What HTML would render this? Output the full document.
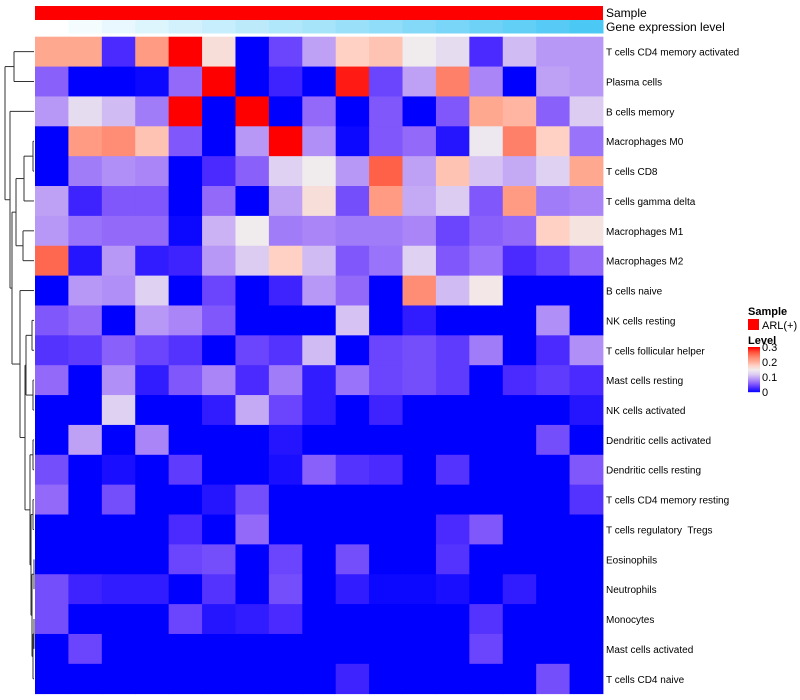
<!DOCTYPE html>
<html><head><meta charset="utf-8"><style>
body{margin:0;background:#fff;width:800px;height:700px;overflow:hidden;font-family:"Liberation Sans",sans-serif}
svg{display:block}
text{font-family:"Liberation Sans",sans-serif;fill:#000;white-space:pre}
</style></head><body>
<svg id="chart" width="800" height="700" xmlns="http://www.w3.org/2000/svg"></svg>
<script>
const rowLabels=["T cells CD4 memory activated","Plasma cells","B cells memory","Macrophages M0","T cells CD8","T cells gamma delta","Macrophages M1","Macrophages M2","B cells naive","NK cells resting","T cells follicular helper","Mast cells resting","NK cells activated","Dendritic cells activated","Dendritic cells resting","T cells CD4 memory resting","T cells regulatory  Tregs","Eosinophils","Neutrophils","Monocytes","Mast cells activated","T cells CD4 naive"];
const r0=[.21,.21,.03,.22,.30,.165,0,.045,.095,.18,.19,.15,.135,.03,.11,.09,.09];
const r1=[.06,0,0,.005,.065,.30,0,.025,0,.29,.045,.095,.24,.08,0,.095,.09];
const r2=[.09,.135,.11,.075,.30,0,.30,0,.065,0,.055,0,.055,.21,.20,.06,.12];
const r3=[0,.22,.23,.19,.055,0,.09,.30,.085,.005,.055,.065,.015,.145,.24,.18,.07];
const r4=[0,.075,.085,.08,0,.03,.06,.125,.15,.09,.26,.095,.19,.115,.10,.125,.21];
const r5=[.095,.025,.055,.055,0,.065,0,.095,.165,.05,.22,.10,.12,.055,.22,.075,.08];
const r6=[.09,.07,.065,.065,.005,.105,.15,.075,.08,.075,.075,.08,.045,.06,.065,.18,.16];
const r7=[.255,.015,.09,.02,.025,.09,.12,.18,.11,.055,.07,.125,.055,.07,.03,.045,.065];
const r8=[0,.09,.085,.125,0,.045,0,.025,.09,.065,0,.23,.11,.155,0,0,0];
const r9=[.055,.065,0,.09,.08,.055,0,0,0,.115,0,.02,0,0,0,.085,0];
const r10=[.035,.04,.06,.045,.035,0,.045,.035,.11,0,.045,.05,.04,.075,0,.03,.085];
const r11=[.065,0,.085,.02,.055,.08,.03,.075,.02,.07,.045,.05,.04,0,.03,.04,.03];
const r12=[0,0,.125,0,0,.02,.1,.045,.02,0,.025,0,0,0,0,0,.015];
const r13=[0,.095,0,.08,0,0,0,.015,0,0,0,0,0,0,0,.05,0];
const r14=[.05,0,.01,0,.04,0,0,.01,.06,.035,.03,0,.035,0,0,0,.055];
const r15=[.065,0,.05,0,0,.015,.05,0,0,0,0,0,0,0,0,0,.035];
const r16=[0,0,0,0,.03,0,.065,0,0,0,0,0,.03,.055,0,0,0];
const r17=[0,0,0,0,.045,.05,0,.045,0,.05,0,0,.035,0,0,0,0];
const r18=[.05,.025,.02,.02,0,.035,0,.05,0,.02,.005,.005,.01,0,.02,0,0];
const r19=[.05,0,0,0,.045,.015,.02,.03,0,0,0,0,0,.035,0,0,0];
const r20=[0,.045,0,0,0,0,0,0,0,0,0,0,0,.045,0,0,0];
const r21=[0,0,0,0,0,0,0,0,0,.025,0,0,0,0,0,.05,0];
const values=[r0,r1,r2,r3,r4,r5,r6,r7,r8,r9,r10,r11,r12,r13,r14,r15,r16,r17,r18,r19,r20,r21];
const levelTicks=[0,0.1,0.2,0.3];

const NS="http://www.w3.org/2000/svg";
const svg=document.getElementById('chart');
function mk(t,a){const e=document.createElementNS(NS,t);for(const k in a)e.setAttribute(k,a[k]);svg.appendChild(e);return e;}
const stops=[[0,[0,0,255]],[.03,[74,42,255]],[.06,[138,96,250]],[.09,[184,152,246]],[.12,[220,204,242]],[.15,[240,236,238]],[.18,[255,208,196]],[.21,[255,168,144]],[.24,[255,128,104]],[.27,[255,80,56]],[.30,[255,0,0]]];
function col(v){v=Math.max(0,Math.min(.3,v));for(let i=1;i<stops.length;i++){if(v<=stops[i][0]){const a=stops[i-1],b=stops[i],t=(v-a[0])/(b[0]-a[0]);return 'rgb('+a[1].map((c,j)=>Math.round(c+(b[1][j]-c)*t)).join(',')+')';}}return 'rgb(255,0,0)';}
const X0=35,X1=603,Y0=36.7,Y1=693.7;
const nC=r0.length,nR=values.length;
const cw=(X1-X0)/nC,rh=(Y1-Y0)/nR;
const xS=j=>X0+j*cw, yS=i=>Y0+i*rh;
const sb=mk('rect',{x:X0,y:6,width:X1-X0,height:14,fill:'#FF0000'});


for(let j=0;j<nC;j++){const t=j/(nC-1);
 const r=Math.round(255+(76-255)*t),g=Math.round(255+(200-255)*t),b=Math.round(255+(245-255)*t);
 const e=mk('rect',{x:xS(j),y:20,width:cw+0.5,height:13.5,fill:`rgb(${r},${g},${b})`});
 
 }
let t1=mk('text',{x:606,y:17,'font-size':12});t1.textContent='Sample';


let t2=mk('text',{x:606,y:31,'font-size':12});t2.textContent='Gene expression level';


for(let i=0;i<nR;i++){for(let j=0;j<nC;j++){
 const e=mk('rect',{x:xS(j),y:yS(i),width:cw+0.4,height:rh+0.4,fill:col(values[i][j])});
 
 }
 const l=mk('text',{x:606,y:yS(i)+rh/2+4,'font-size':10});l.textContent=rowLabels[i];
 
 }
const ly=i=>yS(i)+rh/2;
function node(a,b,x){const ya=a.y,yb=b.y;
 const g=[mk('line',{x1:a.x,y1:ya,x2:x,y2:ya}),mk('line',{x1:b.x,y1:yb,x2:x,y2:yb}),mk('line',{x1:x,y1:ya,x2:x,y2:yb})];
 g.forEach(e=>{e.setAttribute('stroke','#333');e.setAttribute('stroke-width','1');
 
 });
 return {x:x,y:(ya+yb)/2};}
const L=i=>({x:34,y:ly(i)});
const A=node(L(0),L(1),14);
const B=node(L(3),L(4),33),C=node(B,L(5),24),D=node(L(6),L(7),23),E=node(C,D,16);
const N=node(L(9),L(10),32),O=node(L(11),L(12),33),NO=node(N,O,26);
const p1=node(L(13),L(14),33),p2=node(L(15),L(16),33),p3=node(L(17),L(18),34),p4=node(L(19),L(20),34);
const p5=node(p4,L(21),33),p6=node(p3,p5,32),p7=node(p2,p6,31),p8=node(p1,p7,30);
const M=node(NO,p8,25),L1=node(L(8),M,20);
const Q=node(E,L1,12),S=node(L(2),Q,10),T=node(A,S,5);
let lg=mk('text',{x:748,y:315,'font-size':11,'font-weight':'bold'});lg.textContent='Sample';


let sq=mk('rect',{x:748,y:319,width:11,height:11,fill:'#FF0000'});


let sl=mk('text',{x:762,y:329,'font-size':11});sl.textContent='ARL(+)';


let lv=mk('text',{x:748,y:344,'font-size':11,'font-weight':'bold'});lv.textContent='Level';


const cbTop=347,cbBot=392;
for(let k=0;k<45;k++){const v=.3*(1-k/45);
 const e=mk('rect',{x:748,y:cbTop+k,width:12,height:1.2,fill:col(v)});
 
 }
levelTicks.forEach(v=>{const y=cbBot-(v/.3)*(cbBot-cbTop);
 const t=mk('text',{x:762,y:y+4,'font-size':11});t.textContent=String(v);
 
 });
</script>
</body></html>
